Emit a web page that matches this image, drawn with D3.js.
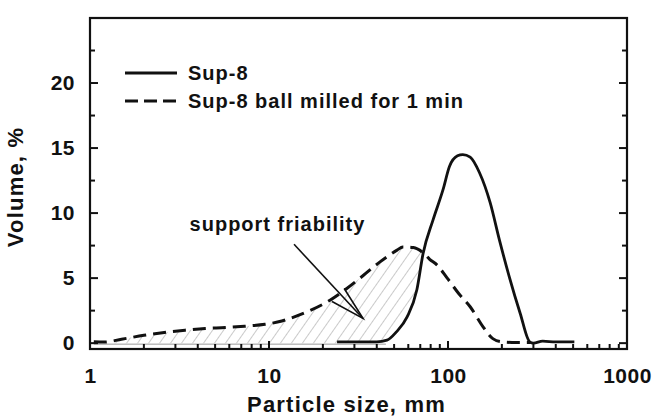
<!DOCTYPE html>
<html>
<head>
<meta charset="utf-8">
<script src="https://cdn.jsdelivr.net/npm/d3@7"></script>
<style>
    body { margin: 0; background: white; }
    text { font-family: "Liberation Sans", Arial, sans-serif; font-weight: bold; fill: #111; }
</style>
</head>
<body>
<script>
// Sup-8 (solid)
const sizeSup8 = [24, 30, 40, 45.6, 51.5, 59, 67, 72.6, 82.6, 93.8, 102, 113, 121, 133, 150, 172, 194, 220, 253, 286, 300, 338, 400, 508];
const volSup8 = [0.1, 0.1, 0.1, 0.23, 0.87, 2.0, 4.1, 6.9, 9.5, 11.8, 13.6, 14.4, 14.5, 14.3, 13.1, 10.8, 7.9, 5.1, 2.3, 0.1, 0, 0.15, 0.1, 0.1];

// Sup-8 ball milled for 1 min (dashed)
const sizeMilled = [1.05, 1.2, 1.5, 2.0, 2.6, 3.4, 4.4, 5.7, 7.3, 9.5, 11.8, 13.1, 16.9, 21.9, 27.2, 33.6, 41.7, 51.9, 56, 64, 72.6, 79, 87, 99, 115, 133, 157, 178, 200, 240, 290];
const volMilled = [0.1, 0.08, 0.3, 0.6, 0.82, 1.0, 1.13, 1.2, 1.3, 1.45, 1.7, 1.9, 2.5, 3.3, 4.2, 5.2, 6.25, 7.15, 7.4, 7.35, 6.95, 6.45, 6.0, 5.0, 3.8, 2.8, 1.25, 0.35, 0.1, 0.05, 0.05];

const xTicks = [1, 10, 100, 1000];
const yTicks = [0, 5, 10, 15, 20];
const seriesNames = ["Sup-8", "Sup-8 ball milled for 1 min"];
const crossSize = 72.6;

const sup8 = sizeSup8.map((s, i) => ({size: s, vol: volSup8[i]}));
const milled = sizeMilled.map((s, i) => ({size: s, vol: volMilled[i]}));

const W = 653, H = 420;
const margin = {left: 90, top: 18, right: 26, bottom: 71};
const width = W - margin.left - margin.right;
const height = H - margin.top - margin.bottom;

const svg = d3.select("body").append("svg")
    .attr("width", W)
    .attr("height", H);

const defs = svg.append("defs");
const pat = defs.append("pattern")
    .attr("id", "hatch")
    .attr("patternUnits", "userSpaceOnUse")
    .attr("width", 9)
    .attr("height", 9)
    .attr("patternTransform", "rotate(35)");
pat.append("line")
    .attr("x1", 0).attr("y1", 0).attr("x2", 0).attr("y2", 9)
    .attr("stroke", "#8a8a8a")
    .attr("stroke-width", 0.9);

const g = svg.append("g")
    .attr("transform", `translate(${margin.left}, ${margin.top})`);

// Scales
const x = d3.scaleLog()
    .domain([1, 1000])
    .range([0, width]);

const y = d3.scaleLinear()
    .domain([-0.45, 25])
    .range([height, 0]);

// hatched region between the two curves
const hatchData = milled.filter((d) => d.size <= crossSize);
g.append("path")
    .datum(hatchData)
    .attr("fill", "url(#hatch)")
    .attr("d", d3.area()
        .x((d) => x(d.size))
        .y0(y(0))
        .y1((d) => y(d.vol))
        .curve(d3.curveMonotoneX));

g.append("path")
    .datum(sup8)
    .attr("fill", "white")
    .attr("d", d3.area()
        .x((d) => x(d.size))
        .y0(y(0) + 0.6)
        .y1((d) => y(d.vol))
        .curve(d3.curveMonotoneX));

g.append("line")
    .attr("x1", x(1.05)).attr("x2", x(45))
    .attr("y1", y(0) + 1).attr("y2", y(0) + 1)
    .attr("stroke", "#9a9a9a")
    .attr("stroke-width", 1);

// Lines
const line = d3.line()
    .x((d) => x(d.size))
    .y((d) => y(d.vol))
    .curve(d3.curveMonotoneX);

g.append("path")
    .datum(milled)
    .attr("fill", "none")
    .attr("stroke", "#111")
    .attr("stroke-width", 3)
    .attr("stroke-dasharray", "13,7")
    .attr("d", line);

g.append("path")
    .datum(sup8)
    .attr("fill", "none")
    .attr("stroke", "#111")
    .attr("stroke-width", 2.8)
    .attr("d", line);

// Axes (ticks pointing inward)
const yMinor = d3.range(2.5, 25.1, 5);

g.append("g")
    .attr("class", "left axis")
    .call(d3.axisLeft(y).tickValues(yTicks).tickSize(0).tickPadding(15))
    .call((a) => a.select(".domain").remove())
    .selectAll("text")
        .style("font-size", "21px")
        .style("letter-spacing", "0.5px");

function yTickMarks(xPos, dir) {
    yTicks.forEach((v) => {
        g.append("line").attr("x1", xPos).attr("x2", xPos + dir * 8)
            .attr("y1", y(v)).attr("y2", y(v))
            .attr("stroke", "#111").attr("stroke-width", 2);
    });
    yMinor.forEach((v) => {
        g.append("line").attr("x1", xPos).attr("x2", xPos + dir * 5)
            .attr("y1", y(v)).attr("y2", y(v))
            .attr("stroke", "#111").attr("stroke-width", 2);
    });
}
yTickMarks(0, 1);
yTickMarks(width, -1);

g.append("g")
    .attr("class", "bottom axis")
    .attr("transform", `translate(0, ${height})`)
    .call(d3.axisBottom(x).tickValues(xTicks).tickFormat(d3.format("d")).tickSize(0).tickPadding(19))
    .call((a) => a.select(".domain").remove())
    .selectAll("text")
        .style("font-size", "21px")
        .style("letter-spacing", "0.5px");

const xMinor = [];
[1, 10, 100].forEach((dec) => {
    for (let k = 2; k <= 9; k++) xMinor.push(dec * k);
});
xMinor.forEach((v) => {
    g.append("line").attr("x1", x(v)).attr("x2", x(v))
        .attr("y1", height).attr("y2", height - 5)
        .attr("stroke", "#111").attr("stroke-width", 2);
});
[10, 100].forEach((v) => {
    g.append("line").attr("x1", x(v)).attr("x2", x(v))
        .attr("y1", height).attr("y2", height - 8)
        .attr("stroke", "#111").attr("stroke-width", 2);
});

g.append("rect")
    .attr("width", width)
    .attr("height", height)
    .attr("fill", "none")
    .attr("stroke", "#111")
    .attr("stroke-width", 2.2);

// Axis labels
g.append("text")
    .attr("x", width / 2 - 12)
    .attr("y", height + 63)
    .attr("text-anchor", "middle")
    .style("font-size", "22px")
    .style("letter-spacing", "1.2px")
    .text("Particle size, mm");

g.append("text")
    .attr("transform", "rotate(-90)")
    .attr("x", -169)
    .attr("y", -67)
    .attr("text-anchor", "middle")
    .style("font-size", "22px")
    .style("letter-spacing", "1.2px")
    .text("Volume, %");

// Legend
const legend = g.append("g").attr("transform", `translate(35, ${y(20) - 10})`);
seriesNames.forEach((name, i) => {
    legend.append("line")
        .attr("x1", 0).attr("x2", 52)
        .attr("y1", i * 28).attr("y2", i * 28)
        .attr("stroke", "#111")
        .attr("stroke-width", 3)
        .attr("stroke-dasharray", i === 0 ? null : "13,6");
    legend.append("text")
        .attr("x", 63)
        .attr("y", i * 28 + 7)
        .style("font-size", "20px")
        .style("letter-spacing", "1px")
        .text(name);
});

// Annotation
const tip = [x(33.5), y(1.9)];
const start = [x(13.8), y(7.6)];
g.append("text")
    .attr("x", x(3.6))
    .attr("y", y(8.6))
    .style("font-size", "20px")
    .style("letter-spacing", "1px")
    .text("support friability");
g.append("line")
    .attr("x1", start[0]).attr("y1", start[1])
    .attr("x2", tip[0]).attr("y2", tip[1])
    .attr("stroke", "#111").attr("stroke-width", 1.6);
g.append("path")
    .attr("d", `M${x(22.5)},${y(3.2)} L${tip[0]},${tip[1]} L${x(26.3)},${y(4.2)}`)
    .attr("fill", "none")
    .attr("stroke", "#111")
    .attr("stroke-width", 1.6);
</script>
</body>
</html>
